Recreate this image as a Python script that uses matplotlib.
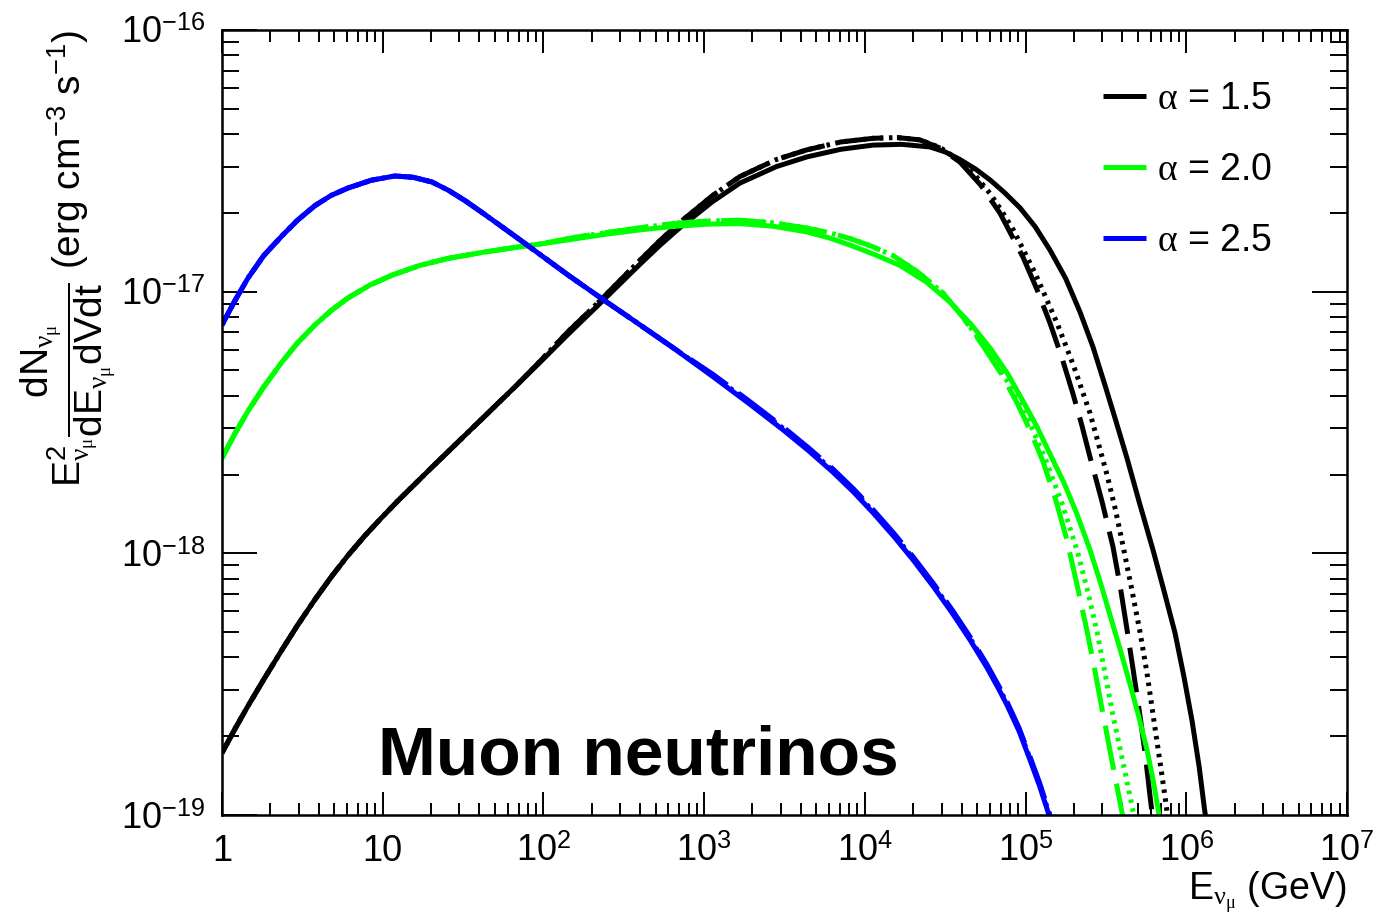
import numpy as np
import matplotlib
matplotlib.use("Agg")
import matplotlib.pyplot as plt
from matplotlib.ticker import FixedLocator, FixedFormatter, LogLocator, NullFormatter

plt.rcParams['font.family'] = ['Liberation Sans', 'DejaVu Sans']
plt.rcParams['mathtext.fontset'] = 'custom'
plt.rcParams['mathtext.rm'] = 'Liberation Sans'
plt.rcParams['mathtext.it'] = 'Liberation Serif'
plt.rcParams['mathtext.bf'] = 'Liberation Sans:bold'

# log10(E / GeV) and log10(E^2 dN/dE dV dt / erg cm^-3 s^-1) along each curve

# alpha = 1.5 : the three models agree below ~70 GeV
log_e_15_low = [0.000, 0.080, 0.162, 0.260, 0.373, 0.470, 0.579, 0.680, 0.784, 0.890,
                0.996, 1.100, 1.201, 1.300, 1.406, 1.510, 1.618, 1.720, 1.823]
log_f_15_low = [-18.763, -18.672, -18.583, -18.482, -18.369, -18.275, -18.176, -18.090, -18.008, -17.932,
                -17.862, -17.796, -17.735, -17.675, -17.612, -17.550, -17.486, -17.425, -17.364]
log_e_15_solid = log_e_15_low + [1.979, 2.150, 2.352, 2.480, 2.601, 2.730, 2.850, 3.050, 3.223, 3.450,
                                 3.640, 3.850, 4.051, 4.230, 4.405, 4.500, 4.592, 4.690, 4.779, 4.870,
                                 4.966, 5.060, 5.152, 5.250, 5.339, 5.420, 5.494, 5.565, 5.631, 5.710,
                                 5.793, 5.860, 5.930, 5.985, 6.036, 6.080, 6.115, 6.135]
log_f_15_solid = log_f_15_low + [-17.270, -17.165, -17.045, -16.968, -16.895, -16.820, -16.755, -16.657,
                                 -16.585, -16.522, -16.485, -16.456, -16.440, -16.437, -16.447, -16.466,
                                 -16.495, -16.532, -16.573, -16.622, -16.680, -16.752, -16.841, -16.950,
                                 -17.078, -17.212, -17.357, -17.500, -17.636, -17.810, -17.987, -18.140,
                                 -18.304, -18.470, -18.640, -18.815, -18.985, -19.060]
log_e_15_mid = log_e_15_low + [1.979, 2.150, 2.352, 2.480, 2.601, 2.730, 2.850, 3.050, 3.223, 3.450,
                               3.640, 3.850, 4.051, 4.200, 4.343]
log_f_15_mid = log_f_15_low + [-17.266, -17.155, -17.035, -16.955, -16.880, -16.802, -16.735, -16.634,
                               -16.560, -16.495, -16.458, -16.428, -16.414, -16.411, -16.420]
log_e_15_dash = log_e_15_mid + [4.470, 4.592, 4.720, 4.841, 4.984, 5.070, 5.152, 5.225, 5.295, 5.350,
                                5.401, 5.475, 5.544, 5.590, 5.631, 5.672, 5.712, 5.745, 5.774, 5.800]
log_f_15_dash = log_f_15_mid + [-16.452, -16.505, -16.592, -16.700, -16.868, -16.990, -17.120, -17.250,
                                -17.390, -17.510, -17.632, -17.800, -17.975, -18.130, -18.290, -18.455,
                                -18.620, -18.770, -18.925, -19.057]
log_e_15_dot = log_e_15_mid + [4.470, 4.592, 4.690, 4.779, 4.850, 4.922, 5.060, 5.196, 5.300, 5.401,
                               5.507, 5.560, 5.606, 5.660, 5.712, 5.755, 5.793, 5.830, 5.868, 5.895]
log_f_15_dot = log_f_15_mid + [-16.450, -16.500, -16.558, -16.625, -16.690, -16.762, -16.930, -17.120,
                               -17.285, -17.464, -17.700, -17.835, -17.970, -18.135, -18.300, -18.455,
                               -18.615, -18.770, -18.930, -19.057]

# alpha = 2.0
log_e_20_low = [0.000, 0.080, 0.162, 0.260, 0.373, 0.470, 0.579, 0.680, 0.784, 0.920,
                1.058, 1.230, 1.406, 1.620, 1.823, 1.979]
log_f_20_low = [-17.636, -17.543, -17.456, -17.364, -17.269, -17.196, -17.127, -17.072, -17.024, -16.975,
                -16.937, -16.900, -16.873, -16.850, -16.831, -16.818]
log_e_20_solid = log_e_20_low + [2.200, 2.396, 2.600, 2.806, 3.020, 3.223, 3.430, 3.640, 3.780, 3.908,
                                 4.060, 4.219, 4.380, 4.530, 4.660, 4.779, 4.890, 4.984, 5.070, 5.152,
                                 5.240, 5.320, 5.401, 5.470, 5.525, 5.590, 5.650, 5.705, 5.756, 5.795,
                                 5.824, 5.845]
log_f_20_solid = log_f_20_low + [-16.798, -16.780, -16.764, -16.751, -16.742, -16.740, -16.750, -16.772,
                                 -16.795, -16.822, -16.858, -16.900, -16.962, -17.040, -17.124, -17.215,
                                 -17.315, -17.418, -17.515, -17.620, -17.732, -17.850, -17.987, -18.120,
                                 -18.235, -18.370, -18.500, -18.625, -18.752, -18.870, -18.975, -19.057]
log_e_20_mid = log_e_20_low + [2.200, 2.396, 2.600, 2.806, 3.020, 3.223, 3.430, 3.640, 3.780, 3.908,
                               4.040, 4.175, 4.330, 4.486]
log_f_20_mid = log_f_20_low + [-16.792, -16.774, -16.756, -16.740, -16.730, -16.727, -16.737, -16.757,
                               -16.775, -16.797, -16.826, -16.862, -16.925, -17.005]
log_e_20_dash = log_e_20_mid + [4.610, 4.735, 4.850, 4.947, 5.030, 5.109, 5.185, 5.258, 5.320, 5.382,
                                5.432, 5.482, 5.540, 5.600, 5.620]
log_f_20_dash = log_f_20_mid + [-17.098, -17.207, -17.315, -17.425, -17.532, -17.650, -17.790, -17.950,
                                -18.120, -18.295, -18.450, -18.615, -18.800, -18.990, -19.057]
log_e_20_dot = log_e_20_mid + [4.610, 4.735, 4.850, 4.966, 5.050, 5.133, 5.230, 5.320, 5.385, 5.445,
                               5.495, 5.544, 5.610, 5.669, 5.690]
log_f_20_dot = log_f_20_mid + [-17.096, -17.202, -17.305, -17.425, -17.535, -17.655, -17.815, -17.987,
                               -18.140, -18.300, -18.460, -18.620, -18.810, -18.985, -19.057]

# alpha = 2.5
log_e_25_low = [0.000, 0.080, 0.162, 0.260, 0.373, 0.470, 0.579, 0.680, 0.784, 0.930,
                1.076, 1.190, 1.307, 1.410, 1.512, 1.610, 1.717, 1.850, 1.979, 2.150,
                2.352, 2.580, 2.806]
log_f_25_low = [-17.127, -17.035, -16.948, -16.862, -16.787, -16.727, -16.671, -16.632, -16.604, -16.574,
                -16.558, -16.563, -16.581, -16.613, -16.652, -16.694, -16.741, -16.800, -16.858, -16.935,
                -17.022, -17.118, -17.214]
log_e_25_tail = [3.055, 3.280, 3.491, 3.650, 3.802, 3.930, 4.051, 4.180, 4.300, 4.430,
                 4.549, 4.660, 4.760, 4.830, 4.885, 4.960, 5.028, 5.085, 5.133, 5.160, 5.178]
log_e_25_solid = log_e_25_low + log_e_25_tail
log_f_25_solid = log_f_25_low + [-17.325, -17.428, -17.528, -17.608, -17.690, -17.766, -17.845, -17.935,
                                 -18.025, -18.130, -18.233, -18.336, -18.437, -18.515, -18.580, -18.680,
                                 -18.790, -18.885, -18.975, -19.030, -19.062]
log_e_25_dash = log_e_25_low + log_e_25_tail
log_f_25_dash = log_f_25_low + [-17.316, -17.418, -17.517, -17.597, -17.678, -17.754, -17.833, -17.923,
                                -18.013, -18.118, -18.221, -18.324, -18.425, -18.503, -18.568, -18.668,
                                -18.778, -18.873, -18.963, -19.018, -19.050]
log_e_25_dot = log_e_25_low + log_e_25_tail
log_f_25_dot = log_f_25_low + [-17.320, -17.423, -17.522, -17.602, -17.684, -17.760, -17.839, -17.929,
                               -18.019, -18.124, -18.227, -18.330, -18.431, -18.509, -18.574, -18.674,
                               -18.784, -18.879, -18.969, -19.024, -19.056]

alphas = ['1.5', '2.0', '2.5']
colors = ['#000000', '#00ff00', '#0000ff']
curves = [
    [(log_e_15_solid, log_f_15_solid), (log_e_15_dash, log_f_15_dash), (log_e_15_dot, log_f_15_dot)],
    [(log_e_20_solid, log_f_20_solid), (log_e_20_dash, log_f_20_dash), (log_e_20_dot, log_f_20_dot)],
    [(log_e_25_solid, log_f_25_solid), (log_e_25_dash, log_f_25_dash), (log_e_25_dot, log_f_25_dot)],
]
x_ticks = [1, 10, 1e2, 1e3, 1e4, 1e5, 1e6, 1e7]
x_tick_labels = ['1', '10', '$10^{2}$', '$10^{3}$', '$10^{4}$', '$10^{5}$', '$10^{6}$', '$10^{7}$']
y_ticks = [1e-19, 1e-18, 1e-17, 1e-16]
y_tick_labels = ['$10^{-19}$', '$10^{-18}$', '$10^{-17}$', '$10^{-16}$']

fig = plt.figure(figsize=(13.77, 9.14), dpi=100)
ax = fig.add_axes([0.1612, 0.1083, 0.8170, 0.8589])

lw = 3.6
styles = [dict(linestyle='-'),
          dict(linestyle=(0, (9, 2.8))),
          dict(linestyle=(0, (0.7, 1.1)))]
handles = []
for color, group in zip(colors, curves):
    for k, (le, lf) in enumerate(group):
        line, = ax.plot(10 ** np.array(le), 10 ** np.array(lf), color=color, lw=lw,
                        solid_capstyle='butt', dash_capstyle='butt',
                        solid_joinstyle='round', **styles[k])
        if k == 0:
            handles.append(line)

ax.set_xscale('log')
ax.set_yscale('log')
ax.set_xlim(1, 1e7)
ax.set_ylim(1e-19, 1e-16)

ax.xaxis.set_major_locator(FixedLocator(x_ticks))
ax.xaxis.set_major_formatter(FixedFormatter(x_tick_labels))
ax.yaxis.set_major_locator(FixedLocator(y_ticks))
ax.yaxis.set_major_formatter(FixedFormatter(y_tick_labels))
ax.xaxis.set_minor_locator(LogLocator(base=10, subs=np.arange(2, 10), numticks=20))
ax.yaxis.set_minor_locator(LogLocator(base=10, subs=np.arange(2, 10), numticks=20))
ax.xaxis.set_minor_formatter(NullFormatter())
ax.yaxis.set_minor_formatter(NullFormatter())

ax.tick_params(axis='both', which='both', direction='in', top=True, right=True,
               labelsize=26, width=1.4, color='black')
ax.tick_params(axis='x', which='major', length=16.5, pad=14)
ax.tick_params(axis='x', which='minor', length=8.5)
ax.tick_params(axis='y', which='major', length=25, pad=12)
ax.tick_params(axis='y', which='minor', length=12)
for sp in ax.spines.values():
    sp.set_linewidth(1.8)

ax.set_xlabel(r'E$_{\nu_{\mu}}$ (GeV)', fontsize=27, loc='right', labelpad=0)
ax.set_ylabel(r'$\mathrm{E}^{2}_{\nu_{\mu}}\dfrac{\mathrm{dN}_{\nu_{\mu}}}{\mathrm{dE}_{\nu_{\mu}}\mathrm{dVdt}}$'
              r' (erg cm$^{-3}$ s$^{-1}$)', fontsize=28, loc='top', labelpad=2)

ax.text(0.1387, 0.051, 'Muon neutrinos', transform=ax.transAxes, fontsize=50,
        fontweight='bold', va='baseline', ha='left')

ax.legend(handles, [r'$\alpha$ = ' + a for a in alphas], loc='upper left',
          bbox_to_anchor=(0.783, 0.935), frameon=False, fontsize=27,
          handlelength=1.15, handletextpad=0.3, labelspacing=0.93,
          borderaxespad=0, borderpad=0)

fig.savefig('out.png', dpi=100)
